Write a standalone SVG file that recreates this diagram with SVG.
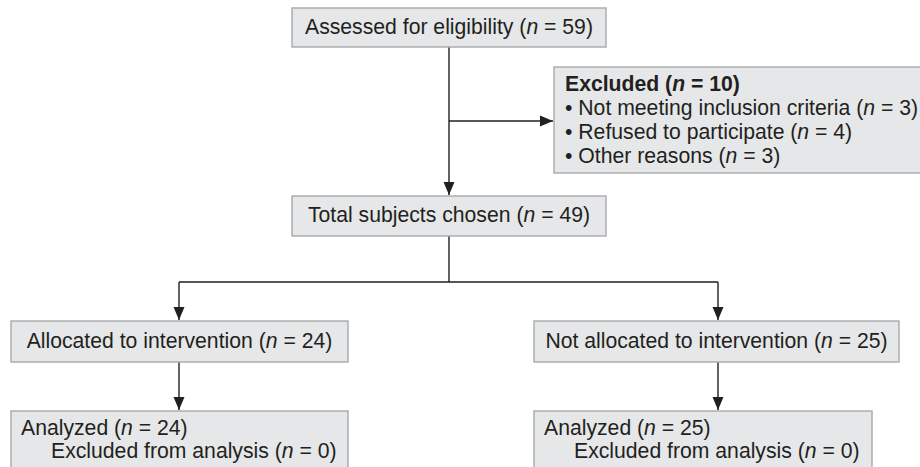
<svg xmlns="http://www.w3.org/2000/svg" width="920" height="467" viewBox="0 0 920 467">
<style>
.box{fill:#e6e7e8;stroke:#a7a9ac;stroke-width:1.4}
.t{font-family:"Liberation Sans",Arial,sans-serif;font-size:21.2px;fill:#231f20}
.c{text-anchor:middle}
.i{font-style:italic}
.b{font-weight:bold}
.ln{fill:none;stroke:#231f20;stroke-width:1.4}
</style>
<defs>
<marker id="ah" markerUnits="userSpaceOnUse" markerWidth="13" markerHeight="12" refX="13" refY="6" orient="auto">
<path d="M0,0.5 L13,6 L0,11.5 z" fill="#231f20"/>
</marker>
</defs>
<rect width="920" height="467" fill="#ffffff"/>
<g id="connectors">
<path class="ln" d="M449,47 V195" marker-end="url(#ah)"/>
<path class="ln" d="M449,121 H553" marker-end="url(#ah)"/>
<path class="ln" d="M449,236 V282 M179,282 H718"/>
<path class="ln" d="M179,282 V320" marker-end="url(#ah)"/>
<path class="ln" d="M718,282 V320" marker-end="url(#ah)"/>
<path class="ln" d="M179,362 V410" marker-end="url(#ah)"/>
<path class="ln" d="M718,362 V410" marker-end="url(#ah)"/>
</g>
<g id="assessed">
<rect class="box" x="292" y="8" width="314" height="39"/>
<text class="t c" x="449" y="34">Assessed for eligibility (<tspan class="i">n</tspan> = 59)</text>
</g>
<g id="excluded">
<rect class="box" x="554" y="67" width="380" height="106"/>
<text class="t b" x="565" y="91">Excluded (<tspan class="i">n</tspan> = 10)</text>
<text class="t" x="565" y="115">• Not meeting inclusion criteria (<tspan class="i">n</tspan> = 3)</text>
<text class="t" x="565" y="139">• Refused to participate (<tspan class="i">n</tspan> = 4)</text>
<text class="t" x="565" y="163">• Other reasons (<tspan class="i">n</tspan> = 3)</text>
</g>
<g id="total">
<rect class="box" x="292" y="196" width="314" height="40"/>
<text class="t c" x="449" y="222">Total subjects chosen (<tspan class="i">n</tspan> = 49)</text>
</g>
<g id="allocated">
<rect class="box" x="11" y="321" width="337" height="41"/>
<text class="t c" x="179.5" y="348">Allocated to intervention (<tspan class="i">n</tspan> = 24)</text>
</g>
<g id="notallocated">
<rect class="box" x="534" y="321" width="365" height="41"/>
<text class="t c" x="716.5" y="348">Not allocated to intervention (<tspan class="i">n</tspan> = 25)</text>
</g>
<g id="analyzed-left">
<rect class="box" x="11" y="411" width="337" height="60"/>
<text class="t" x="21" y="435">Analyzed (<tspan class="i">n</tspan> = 24)</text>
<text class="t" x="51" y="458">Excluded from analysis (<tspan class="i">n</tspan> = 0)</text>
</g>
<g id="analyzed-right">
<rect class="box" x="534" y="411" width="338" height="60"/>
<text class="t" x="544" y="435">Analyzed (<tspan class="i">n</tspan> = 25)</text>
<text class="t" x="574" y="458">Excluded from analysis (<tspan class="i">n</tspan> = 0)</text>
</g>
</svg>
